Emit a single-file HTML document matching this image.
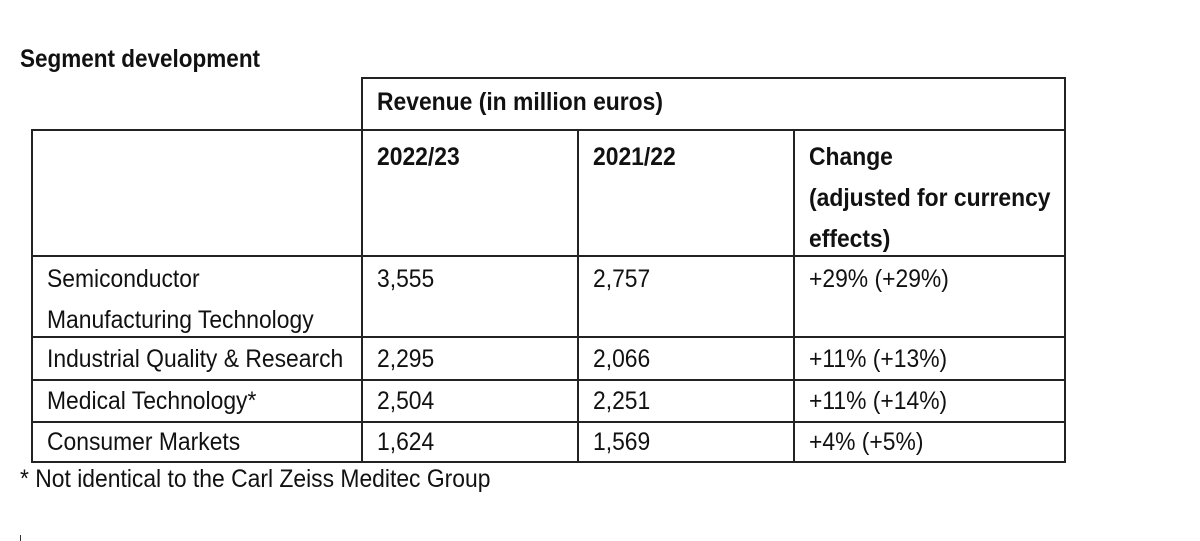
<!DOCTYPE html>
<html><head><meta charset="utf-8"><style>
body{margin:0;width:1200px;height:541px;background:#fff;position:relative;overflow:hidden;font-family:"Liberation Sans",Arial,sans-serif;color:#111}
.t{position:absolute;font-size:25px;line-height:41px;white-space:nowrap;transform:scaleX(0.915);transform-origin:0 0}
.b{font-weight:bold}
.h{position:absolute;height:2px;background:#222}
.v{position:absolute;width:2px;background:#222}
</style></head><body>
<div class="t b" style="left:20px;top:39px;transform:scaleX(0.9)">Segment development</div>
<div>
<div class="h" style="left:362px;width:704px;top:77px"></div>
<div class="h" style="left:32px;width:1034px;top:129px"></div>
<div class="h" style="left:32px;width:1034px;top:255px"></div>
<div class="h" style="left:32px;width:1034px;top:336px"></div>
<div class="h" style="left:32px;width:1034px;top:379px"></div>
<div class="h" style="left:32px;width:1034px;top:421px"></div>
<div class="h" style="left:32px;width:1034px;top:461px"></div>
<div class="v" style="left:31px;top:129px;height:334px"></div>
<div class="v" style="left:361px;top:77px;height:386px"></div>
<div class="v" style="left:577px;top:129px;height:334px"></div>
<div class="v" style="left:793px;top:129px;height:334px"></div>
<div class="v" style="left:1064px;top:77px;height:386px"></div>
</div>
<div class="t b" style="left:377px;top:82px">Revenue (in million euros)</div>
<div class="t b" style="left:377px;top:137px">2022/23</div>
<div class="t b" style="left:593px;top:137px">2021/22</div>
<div class="t b" style="left:809px;top:137px">Change<br>(adjusted for currency<br>effects)</div>
<div class="t" style="left:47px;top:259px">Semiconductor<br>Manufacturing Technology</div>
<div class="t" style="left:377px;top:259px">3,555</div>
<div class="t" style="left:593px;top:259px">2,757</div>
<div class="t" style="left:809px;top:259px">+29% (+29%)</div>
<div class="t" style="left:47px;top:339px">Industrial Quality &amp; Research</div>
<div class="t" style="left:377px;top:339px">2,295</div>
<div class="t" style="left:593px;top:339px">2,066</div>
<div class="t" style="left:809px;top:339px">+11% (+13%)</div>
<div class="t" style="left:47px;top:381px">Medical Technology*</div>
<div class="t" style="left:377px;top:381px">2,504</div>
<div class="t" style="left:593px;top:381px">2,251</div>
<div class="t" style="left:809px;top:381px">+11% (+14%)</div>
<div class="t" style="left:47px;top:422px">Consumer Markets</div>
<div class="t" style="left:377px;top:422px">1,624</div>
<div class="t" style="left:593px;top:422px">1,569</div>
<div class="t" style="left:809px;top:422px">+4% (+5%)</div>
<div class="t" style="left:20px;top:459px">* Not identical to the Carl Zeiss Meditec Group</div>
<div style="position:absolute;left:20px;top:535px;width:1px;height:6px;background:#333"></div>
</body></html>
